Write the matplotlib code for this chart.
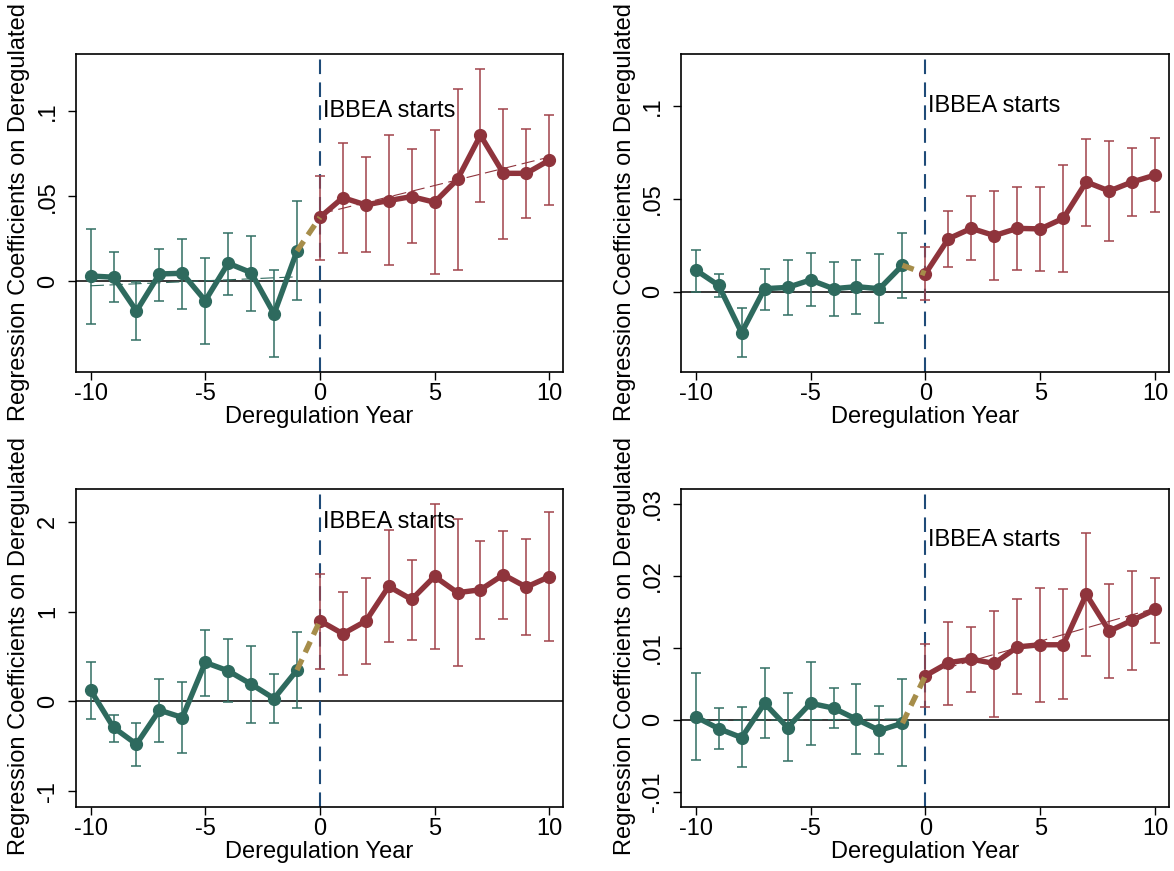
import numpy as np
import matplotlib
matplotlib.use("Agg")
import matplotlib.pyplot as plt
from matplotlib.ticker import FixedLocator, FuncFormatter

plt.rcParams['font.family'] = ['Liberation Sans', 'DejaVu Sans']
plt.rcParams['axes.unicode_minus'] = False

years_pre = [-10, -9, -8, -7, -6, -5, -4, -3, -2, -1]
years_post = [0, 1, 2, 3, 4, 5, 6, 7, 8, 9, 10]

# ---- Panel A (top-left)
a_pre = [0.0031, 0.0024, -0.0175, 0.0043, 0.0047, -0.0114, 0.0106, 0.0051, -0.0192, 0.0178]
a_pre_hi = [0.0308, 0.0173, -0.0006, 0.0192, 0.0249, 0.0137, 0.0284, 0.0269, 0.0065, 0.0471]
a_pre_lo = [-0.0251, -0.0124, -0.0343, -0.0116, -0.0165, -0.0367, -0.0082, -0.0173, -0.0443, -0.0112]
a_post = [0.0376, 0.0492, 0.0449, 0.0475, 0.0498, 0.0465, 0.0600, 0.0859, 0.0635, 0.0635, 0.0712]
a_post_hi = [0.0620, 0.0812, 0.0731, 0.0863, 0.0778, 0.0888, 0.1131, 0.1249, 0.1016, 0.0896, 0.0978]
a_post_lo = [0.0127, 0.0167, 0.0173, 0.0094, 0.0224, 0.0045, 0.0065, 0.0465, 0.0251, 0.0375, 0.0447]

# ---- Panel B (top-right)
b_pre = [0.0117, 0.0034, -0.0221, 0.0016, 0.0023, 0.0063, 0.0016, 0.0027, 0.0016, 0.0142]
b_pre_hi = [0.0226, 0.0097, -0.0086, 0.0120, 0.0171, 0.0206, 0.0162, 0.0171, 0.0203, 0.0316]
b_pre_lo = [0.0000, -0.0027, -0.0350, -0.0099, -0.0126, -0.0079, -0.0129, -0.0120, -0.0171, -0.0032]
b_post = [0.0097, 0.0285, 0.0341, 0.0302, 0.0341, 0.0338, 0.0395, 0.0591, 0.0542, 0.0591, 0.0628]
b_post_hi = [0.0241, 0.0436, 0.0515, 0.0544, 0.0566, 0.0566, 0.0682, 0.0822, 0.0810, 0.0776, 0.0829]
b_post_lo = [-0.0043, 0.0133, 0.0171, 0.0065, 0.0118, 0.0113, 0.0108, 0.0352, 0.0273, 0.0406, 0.0431]

# ---- Panel C (bottom-left)
c_pre = [0.126, -0.289, -0.475, -0.096, -0.178, 0.434, 0.341, 0.193, 0.033, 0.349]
c_pre_hi = [0.434, -0.145, -0.241, 0.249, 0.215, 0.790, 0.694, 0.616, 0.308, 0.772]
c_pre_lo = [-0.193, -0.453, -0.712, -0.453, -0.575, 0.063, -0.007, -0.237, -0.241, -0.074]
c_post = [0.898, 0.753, 0.894, 1.280, 1.135, 1.391, 1.210, 1.243, 1.410, 1.273, 1.388]
c_post_hi = [1.417, 1.221, 1.373, 1.911, 1.577, 2.200, 2.030, 1.785, 1.892, 1.807, 2.104]
c_post_lo = [0.367, 0.297, 0.416, 0.657, 0.683, 0.583, 0.393, 0.698, 0.917, 0.742, 0.672]

# ---- Panel D (bottom-right)
d_pre = [0.0004, -0.00125, -0.0025, 0.00227, -0.0011, 0.00227, 0.0016, 0.00005, -0.0015, -0.0005]
d_pre_hi = [0.0065, 0.0016, 0.0018, 0.0072, 0.0037, 0.0080, 0.0044, 0.0050, 0.0019, 0.0056]
d_pre_lo = [-0.0056, -0.0041, -0.0066, -0.0026, -0.0058, -0.0035, -0.0012, -0.0048, -0.0048, -0.0064]
d_post = [0.0061, 0.0079, 0.0084, 0.0078, 0.0101, 0.0104, 0.0104, 0.0174, 0.0123, 0.0138, 0.0153]
d_post_hi = [0.0105, 0.0136, 0.0128, 0.0151, 0.0167, 0.0183, 0.0181, 0.0259, 0.0189, 0.0207, 0.0197]
d_post_lo = [0.0018, 0.0020, 0.0039, 0.0004, 0.0036, 0.0024, 0.0028, 0.0088, 0.0058, 0.0069, 0.0107]

y_ticks_a = [0, 0.05, 0.1]
y_ticks_b = [0, 0.05, 0.1]
y_ticks_c = [-1, 0, 1, 2]
y_ticks_d = [-0.01, 0, 0.01, 0.02, 0.03]
x_ticks = [-10, -5, 0, 5, 10]

label_y = "Regression Coefficients on Deregulated"
label_x = "Deregulation Year"
event_label = "IBBEA starts"

GREEN = "#2E6A5E"
GREEN_E = "#326F63"
RED = "#8F343C"
RED_E = "#A0424A"
GOLD = "#A68D4A"
NAVY = "#1F4B78"

W, H = 1174, 871
fig = plt.figure(figsize=(W / 100, H / 100), dpi=100)


def stata_fmt(v, pos=None):
    if abs(v) < 1e-12:
        return "0"
    s = ("%g" % v)
    s = s.replace("0.", ".")
    return s


def panel(rect_px, pre, pre_lo, pre_hi, post, post_lo, post_hi, yticks, ylim,
          text_y, fits, label_x_px, label_bottom_px):
    l, t, r, b = rect_px
    ax = fig.add_axes([l / W, 1 - b / H, (r - l) / W, (b - t) / H])
    ax.set_xlim(-10.65, 10.6)
    ax.set_ylim(*ylim)
    fs = 17
    ax.axhline(0, color="black", lw=1.1, zorder=1)
    ax.axvline(0, color=NAVY, lw=1.5, dashes=(7, 4), zorder=1)
    pre_a = np.array(pre); post_a = np.array(post)
    ax.errorbar(years_pre, pre, yerr=[pre_a - np.array(pre_lo), np.array(pre_hi) - pre_a],
                fmt="none", ecolor=GREEN_E, elinewidth=1.1, capsize=3.8, capthick=1.1, zorder=2)
    ax.errorbar(years_post, post, yerr=[post_a - np.array(post_lo), np.array(post_hi) - post_a],
                fmt="none", ecolor=RED_E, elinewidth=1.1, capsize=3.8, capthick=1.1, zorder=2)
    if fits:
        kp = np.polyfit(years_pre, pre, 1)
        ax.plot(years_pre, np.polyval(kp, years_pre), color=GREEN, lw=0.8, dashes=(12, 5), zorder=2)
        kq = np.polyfit(years_post, post, 1)
        ax.plot(years_post, np.polyval(kq, years_post), color=RED, lw=0.8, dashes=(12, 5), zorder=2)
    ax.plot(years_pre, pre, color=GREEN, lw=3.9, marker="o", ms=8.5, zorder=3,
            solid_joinstyle="round")
    ax.plot(years_post, post, color=RED, lw=3.9, marker="o", ms=8.5, zorder=3,
            solid_joinstyle="round")
    ax.plot([years_pre[-1], years_post[0]], [pre[-1], post[0]], color=GOLD, lw=3.9,
            dashes=(2.2, 1.4), zorder=4, dash_capstyle="butt")
    ax.text(0.12, text_y, event_label, fontsize=fs, ha="left", va="center", zorder=5)
    ax.xaxis.set_major_locator(FixedLocator(x_ticks))
    ax.yaxis.set_major_locator(FixedLocator(yticks))
    ax.yaxis.set_major_formatter(FuncFormatter(stata_fmt))
    ax.tick_params(axis="both", direction="out", length=6, width=1.0, labelsize=fs)
    ax.tick_params(axis="x", pad=2)
    ax.tick_params(axis="y", pad=6)
    for lab in ax.get_yticklabels():
        lab.set_rotation(90)
        lab.set_va("center")
    for sp in ax.spines.values():
        sp.set_linewidth(1.2)
    ax.set_xlabel(label_x, fontsize=fs, labelpad=1)
    fig.text(label_x_px / W, 1 - label_bottom_px / H, label_y, rotation=90, fontsize=17,
             ha="center", va="bottom")
    return ax


panel((75.7, 54, 563, 371.7), a_pre, a_pre_lo, a_pre_hi, a_post, a_post_lo, a_post_hi,
      y_ticks_a, (-0.0532, 0.1337), 0.1, True, 19, 421)
panel((680.7, 54, 1169, 371.7), b_pre, b_pre_lo, b_pre_hi, b_post, b_post_lo, b_post_hi,
      y_ticks_b, (-0.0431, 0.128), 0.1, False, 625, 421)
panel((75.7, 489.3, 563, 806.7), c_pre, c_pre_lo, c_pre_hi, c_post, c_post_lo, c_post_hi,
      y_ticks_c, (-1.17, 2.36), 2.0, False, 19, 855)
panel((680.7, 489.3, 1169, 806.7), d_pre, d_pre_lo, d_pre_hi, d_post, d_post_lo, d_post_hi,
      y_ticks_d, (-0.0121, 0.032), 0.025, True, 625, 855)

fig.savefig("out.png", dpi=100)
